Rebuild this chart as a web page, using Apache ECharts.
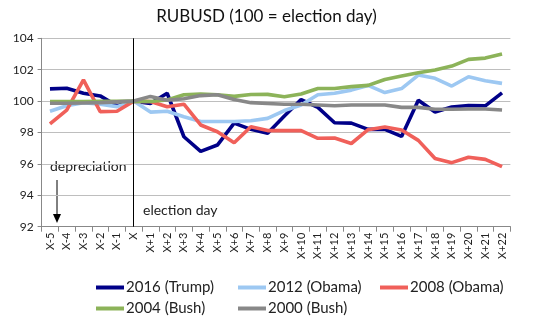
<!DOCTYPE html>
<html><head><meta charset="utf-8">
<script src="https://cdn.jsdelivr.net/npm/echarts@6/dist/echarts.min.js"></script>
<style>html,body{margin:0;padding:0;background:#fff}#c{width:533px;height:325px}</style>
</head><body><div id="c"></div>
<script>
var categories = ['X-5','X-4','X-3','X-2','X-1','X','X+1','X+2','X+3','X+4','X+5','X+6','X+7','X+8','X+9','X+10','X+11','X+12','X+13','X+14','X+15','X+16','X+17','X+18','X+19','X+20','X+21','X+22'];
var trump2016 = [100.78,100.82,100.5,100.33,99.7,100,99.85,100.5,97.73,96.8,97.2,98.6,98.2,97.95,99.05,100.1,99.6,98.62,98.6,98.2,98.2,97.75,100.05,99.3,99.62,99.72,99.7,100.52];
var obama2012 = [99.35,99.7,99.9,99.8,99.65,100,99.3,99.35,99.0,98.7,98.7,98.7,98.75,98.9,99.4,99.75,100.4,100.5,100.7,101.0,100.54,100.8,101.66,101.45,100.96,101.55,101.3,101.13];
var obama2008 = [98.55,99.43,101.35,99.33,99.35,100,99.97,99.64,99.8,98.48,98.05,97.35,98.37,98.12,98.12,98.12,97.63,97.65,97.3,98.18,98.35,98.16,97.5,96.35,96.08,96.42,96.29,95.82];
var bush2004 = [99.97,99.97,99.97,99.98,99.98,100,99.97,100.07,100.4,100.45,100.4,100.3,100.42,100.43,100.28,100.45,100.8,100.8,100.92,101.0,101.38,101.6,101.8,101.98,102.23,102.66,102.74,103.0];
var bush2000 = [99.86,99.86,99.88,99.9,99.95,100,100.3,100.05,100.15,100.35,100.4,100.1,99.9,99.85,99.8,99.8,99.75,99.7,99.75,99.75,99.75,99.6,99.6,99.48,99.48,99.5,99.5,99.43];
var yTicks = [92,94,96,98,100,102,104];
var seriesNames = ['2016 (Trump)','2012 (Obama)','2008 (Obama)','2004 (Bush)','2000 (Bush)'];
var seriesColors = ['#000088','#9DC8F2','#F0605A','#8CB359','#888888'];

var FONT = 'Lato, "Open Sans", sans-serif';
var chart = echarts.init(document.getElementById('c'), null, {renderer:'canvas'});
var allData = [trump2016, obama2012, obama2008, bush2004, bush2000];
var series = allData.map(function(d, i){
  return {
    name: seriesNames[i], type:'line', data:d, symbol:'none', smooth:false,
    lineStyle:{color:seriesColors[i], width:3.6}, itemStyle:{color:seriesColors[i]},
    emphasis:{disabled:true}, animation:false
  };
});
series[0].markLine = {
  silent:true, symbol:['none','none'], label:{show:false},
  lineStyle:{color:'#000', width:1, type:'solid'},
  data:[{xAxis:'X'}]
};
var legendPos = [[91,275],[233,275],[375,275],[91,296],[233,296]];
var legends = seriesNames.map(function(n,i){
  return {data:[n], left:legendPos[i][0], top:legendPos[i][1], itemWidth:28, itemHeight:4, itemGap:2,
    icon:'rect', textStyle:{fontFamily:FONT, fontSize:15, color:'#222', padding:[0,0,0,-3]}, selectedMode:false};
});
chart.setOption({
  animation:false,
  title:{text:'RUBUSD (100 = election day)', left:'center', top:3, textStyle:{fontFamily:FONT, fontSize:17, fontWeight:'normal', color:'#111'}},
  legend: legends,
  grid:{left:41.6, right:22.6, top:38.3, bottom:98.3, containLabel:false},
  xAxis:{type:'category', data:categories, boundaryGap:true,
    axisLine:{lineStyle:{color:'#888'}}, axisTick:{show:true, length:5, lineStyle:{color:'#888'}},
    axisLabel:{rotate:90, interval:0, fontFamily:FONT, fontSize:11, color:'#222', margin:6}},
  yAxis:{type:'value', min:92, max:104, interval:2,
    axisLine:{show:true, lineStyle:{color:'#888'}}, axisTick:{show:true, length:4, lineStyle:{color:'#888'}},
    splitLine:{lineStyle:{color:'#BEBEBE'}},
    axisLabel:{fontFamily:FONT, fontSize:12, color:'#222', margin:8,
      formatter:function(v){return yTicks.indexOf(v)>=0 ? String(v) : '';}}},
  series: series,
  graphic:[
    {type:'text', left:50, top:159, style:{text:'depreciation', font:'14px '+FONT, fill:'#222'}},
    {type:'line', shape:{x1:57, y1:180, x2:57, y2:216}, style:{stroke:'#000', lineWidth:1}},
    {type:'polygon', shape:{points:[[53,214],[61,214],[57,223]]}, style:{fill:'#000'}},
    {type:'text', left:143, top:203, style:{text:'election day', font:'14px '+FONT, fill:'#222'}}
  ]
});
</script></body></html>
